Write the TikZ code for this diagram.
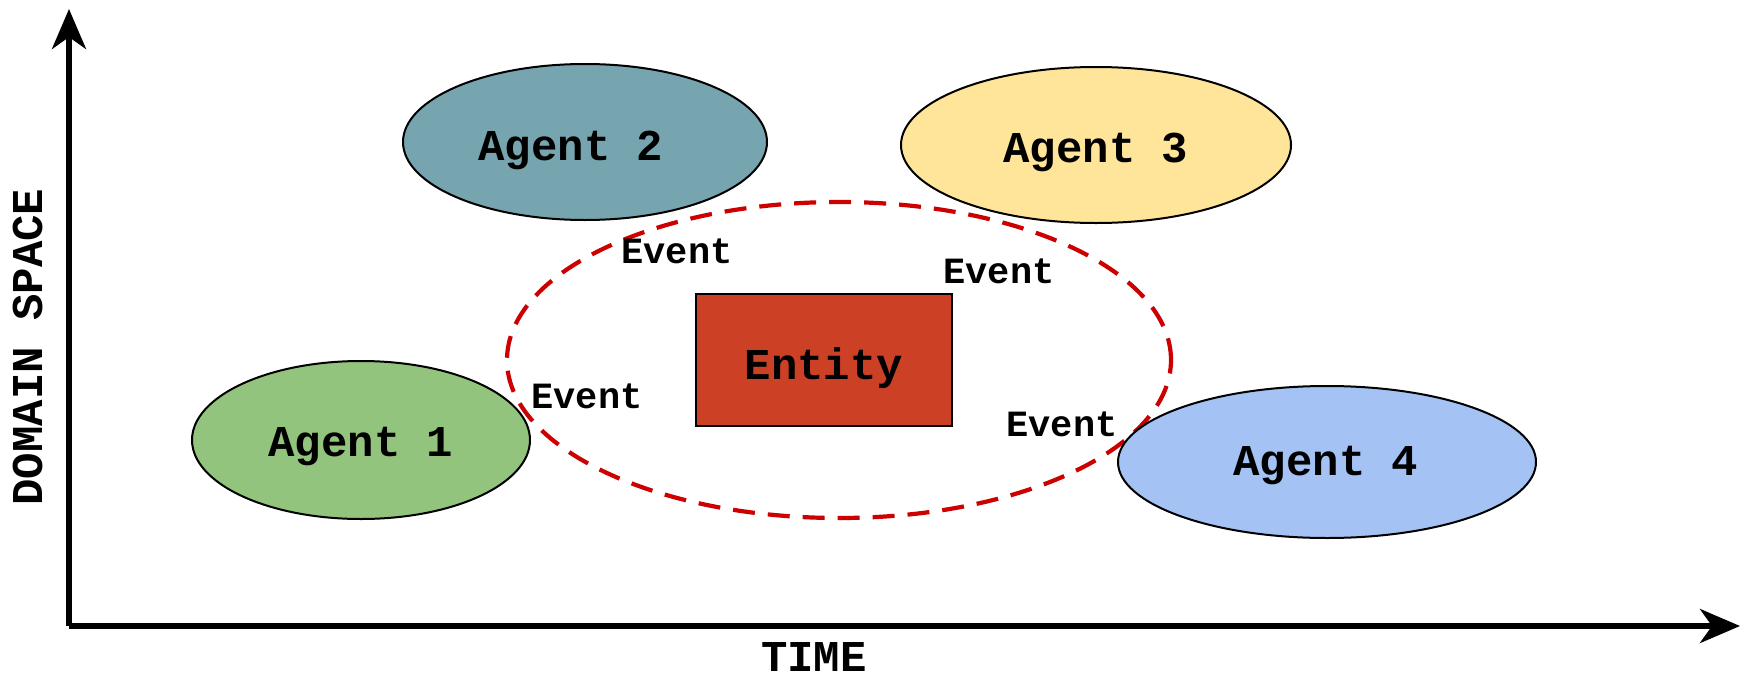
\documentclass[tikz,border=0pt]{standalone}
\usepackage{fontspec}
\setmonofont{Liberation Mono}
\usetikzlibrary{arrows.meta,shapes.geometric}
\definecolor{cagone}{HTML}{93C47D}
\definecolor{cagtwo}{HTML}{76A5AF}
\definecolor{cagthree}{HTML}{FFE599}
\definecolor{cagfour}{HTML}{A4C2F4}
\definecolor{centity}{HTML}{CC4125}
\definecolor{cdash}{HTML}{CC0000}
\begin{document}
\begin{tikzpicture}[x=1pt,y=-1pt,
  agent/.style={ellipse,draw=black,line width=2pt,inner sep=0pt},
  lbl/.style={font=\fontsize{44}{50}\selectfont\ttfamily\bfseries,inner sep=0pt},
  evt/.style={font=\fontsize{37}{42}\selectfont\ttfamily\bfseries,inner sep=0pt},
  axis/.style={line width=5.5pt,-{Stealth[length=40pt,width=34pt,inset=12pt]}}]
\useasboundingbox (0,0) rectangle (1754,675);
% axes
\coordinate (O) at (69,626);
\coordinate (Ytip) at (69,9);
\coordinate (Xtip) at (1740,626);
\draw[axis] (O) -- (Ytip);
\draw[axis] (O) -- (Xtip);
% dashed event ellipse
\node[ellipse,draw=cdash,line width=4.2pt,dash pattern=on 22pt off 13pt,
      minimum width=664pt,minimum height=316pt,inner sep=0pt] (ev) at (839,360) {};
% agents
\node[agent,fill=cagtwo,minimum width=364pt,minimum height=156pt] (a2) at (585,142) {};
\node[agent,fill=cagthree,minimum width=390pt,minimum height=156pt] (a3) at (1096,145) {};
\node[agent,fill=cagone,minimum width=338pt,minimum height=158pt] (a1) at (361,440) {};
\node[agent,fill=cagfour,minimum width=418pt,minimum height=152pt] (a4) at (1327,462) {};
\node[lbl] (a2t) at (571,150) {Agent 2};
\node[lbl] (a3t) at (1096,152) {Agent 3};
\node[lbl] (a1t) at (361,447) {Agent 1};
\node[lbl] (a4t) at (1326,466) {Agent 4};
% entity
\node[draw=black,line width=2pt,fill=centity,minimum width=256pt,minimum height=132pt] (ent) at (824,360) {};
\node[lbl] (entt) at (824,368) {Entity};
% events
\node[evt] (e1) at (677,251) {Event};
\node[evt] (e2) at (999,271) {Event};
\node[evt] (e3) at (587,396) {Event};
\node[evt] (e4) at (1062,424) {Event};
% axis labels
\node[lbl,rotate=90] (ylab) at (28,347) {DOMAIN SPACE};
\node[lbl] (xlab) at (814,657) {TIME};
\end{tikzpicture}
\end{document}
